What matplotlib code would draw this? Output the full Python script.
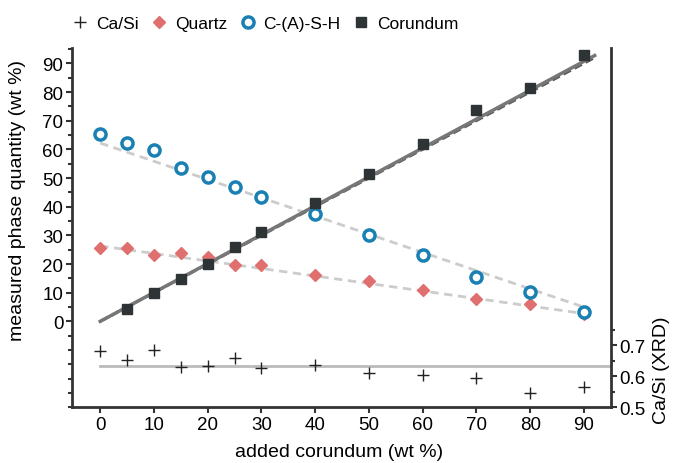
from matplotlib import pyplot as plt
from matplotlib.ticker import MultipleLocator
import numpy as np

plt.rcParams['font.family'] = ['Liberation Sans', 'DejaVu Sans']

# data
corundum_x = [5, 10, 15, 20, 25, 30, 40, 50, 60, 70, 80, 90]
corundum_y = [4.4, 10.0, 14.9, 20.1, 26.0, 31.3, 41.3, 51.5, 61.9, 73.8, 81.3, 93.0]

added = [0, 5, 10, 15, 20, 25, 30, 40, 50, 60, 70, 80, 90]
csh_y = [65.4, 62.2, 59.8, 53.4, 50.3, 46.8, 43.4, 37.3, 30.0, 23.3, 15.6, 10.4, 3.4]
quartz_y = [25.5, 25.6, 23.0, 24.0, 22.5, 19.5, 19.5, 16.3, 14.1, 11.1, 7.9, 6.0, 2.5]
casi_y = [0.680, 0.651, 0.683, 0.629, 0.632, 0.659, 0.625, 0.636, 0.611, 0.604, 0.595, 0.546, 0.564]

# fitted lines (intercept, slope)
fit_corundum = (0.0, 1.008)
fit_csh = (62.2, -0.636)
fit_quartz = (26.3, -0.262)
casi_mean = 0.634

fig = plt.figure(figsize=(6.77, 4.64), dpi=100)
ax = fig.add_axes([0.106, 0.12, 0.797, 0.774])
ax2 = ax.twinx()

spine_col = '#333333'

# fit lines
xl = np.array([0, 90])
ax.plot(xl, fit_csh[0] + fit_csh[1] * xl, ls=(0, (3, 2)), color='#cccccc', lw=2, zorder=1)
ax.plot(xl, fit_quartz[0] + fit_quartz[1] * xl, ls=(0, (3, 2)), color='#cccccc', lw=2, zorder=1)
xc = np.array([0, 92])
ax.plot(xc, xc, ls=(0, (3, 1.5)), color='#5a5a5a', lw=2, zorder=2)
ax.plot(xc, fit_corundum[0] + fit_corundum[1] * xc, color='#777777', lw=2.5, zorder=2)

# points
ax.plot(added, quartz_y, 'D', color='#e07070', ms=6, zorder=3, label='Quartz')
ax.plot(added, csh_y, 'o', mfc='white', mec='#1a80b3', mew=2.5, ms=8, zorder=4, label='C-(A)-S-H')
ax.plot(corundum_x, corundum_y, 's', color='#2e3436', ms=6.5, zorder=5, label='Corundum')

ax2.axhline(casi_mean, xmin=(0 + 5.3) / 100.4, xmax=1, color='#bbbbbb', lw=2, zorder=1)
ax2.plot(added, casi_y, '+', color='#222222', ms=8, mew=1.0, zorder=3, label='Ca/Si')

# axes
ax.set_xlim(-5.3, 95.1)
ax.set_ylim(-30, 95.3)
ax2.set_ylim(0.5, 1.654)

ax.set_xticks(range(0, 91, 10))
ax.set_yticks(range(0, 91, 10))
ax.yaxis.set_minor_locator(MultipleLocator(5))
ax2.set_yticks([0.5, 0.6, 0.7])
ax2.set_yticks([0.55, 0.65, 0.75], minor=True)

for a in (ax, ax2):
    a.spines['top'].set_visible(False)
    for s in ('left', 'right', 'bottom'):
        a.spines[s].set_color(spine_col)
        a.spines[s].set_linewidth(2)
ax.spines['right'].set_visible(False)
ax2.spines['left'].set_visible(False)
ax2.spines['bottom'].set_visible(False)

ax.tick_params(axis='both', which='major', direction='out', length=4, width=1.5,
               color=spine_col, labelsize=13.5, pad=2)
ax.tick_params(axis='y', which='minor', direction='out', length=3, width=1.5, color=spine_col)
ax2.tick_params(axis='y', which='major', direction='out', length=4, width=1.5,
                color=spine_col, labelsize=13.5, pad=2)
ax2.tick_params(axis='y', which='minor', direction='out', length=3, width=1.5, color=spine_col)

ax.set_xlabel('added corundum (wt %)', fontsize=14)
ax.set_ylabel('measured phase quantity (wt %)', fontsize=14)
ax.yaxis.set_label_coords(-0.085, 0.58)
ax.xaxis.set_label_coords(0.495, -0.1)
ax2.set_ylabel('Ca/Si (XRD)', fontsize=14)
ax2.yaxis.set_label_coords(1.078, 0.107)

h2, l2 = ax2.get_legend_handles_labels()
h1, l1 = ax.get_legend_handles_labels()
fig.legend(h2 + h1, l2 + l1, loc='upper left', bbox_to_anchor=(0.085, 0.993), ncol=4,
           frameon=False, fontsize=12.5, handlelength=1.0, handletextpad=0.4,
           columnspacing=0.7, borderpad=0.3)

fig.savefig('out.png', dpi=100)
